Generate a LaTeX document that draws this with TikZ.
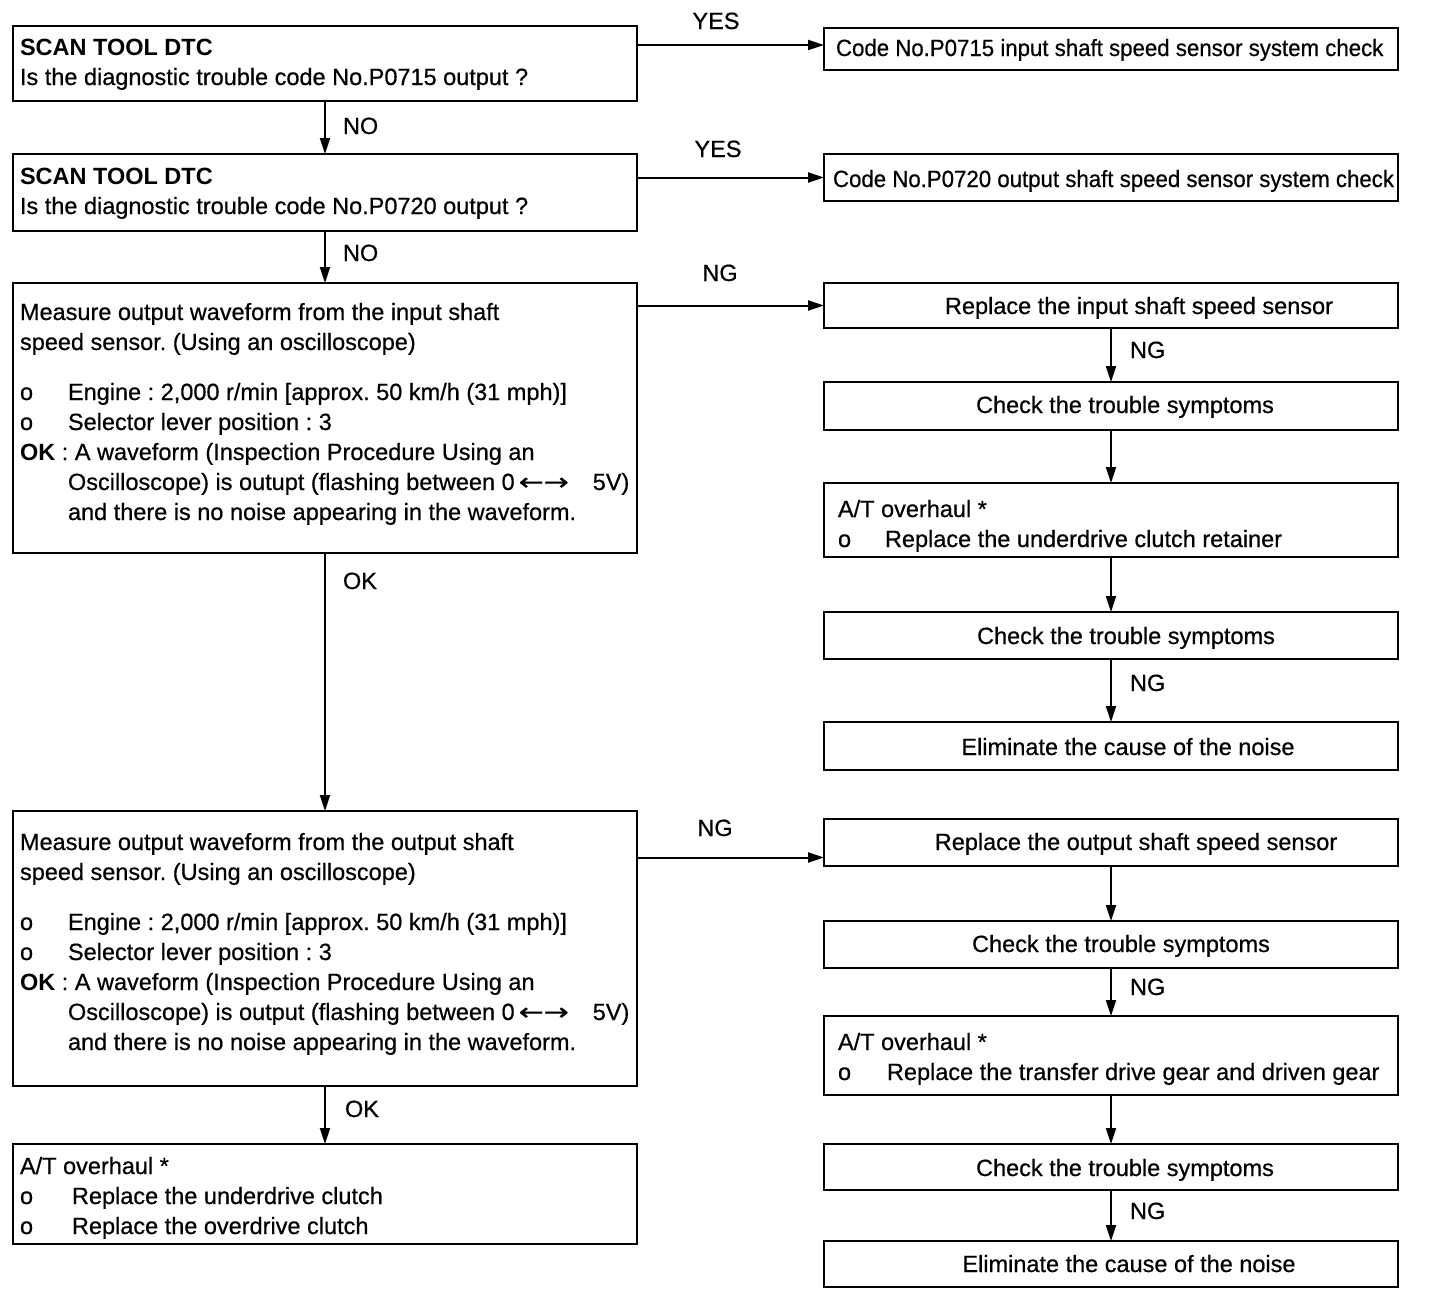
\documentclass[tikz,border=0pt]{standalone}
\usepackage{fontspec}
\setmainfont{Liberation Sans}[UprightFeatures={FakeBold=0.6}]
\newfontfamily\arrfont{DejaVu Sans}[FakeBold=0.6]
\usetikzlibrary{arrows.meta,calc}
\newcommand{\bulA}{\makebox[48pt][l]{o}}
\newcommand{\bulB}{\makebox[52pt][l]{o}}
\newcommand{\bulC}{\makebox[47pt][l]{o}}
\newcommand{\indA}{\hspace*{48pt}}
\newcommand{\lines}[1]{\begin{tabular}[t]{@{}l@{}}#1\end{tabular}}
\newcommand{\dblarr}{\hspace{4pt}\scalebox{1.27}[1]{\arrfont ←→}\hspace{24pt}}
\frenchspacing
\begin{document}
\begin{tikzpicture}[x=1pt,y=-1pt,
  box/.style={draw, line width=2pt, rectangle, inner sep=0pt, outer sep=0pt},
  lbox/.style={box, minimum width=624pt},
  rbox/.style={box, minimum width=574pt},
  txt/.style={inner sep=0pt, outer sep=0pt, font=\fontsize{23.5}{30}\selectfont\frenchspacing},
  conn/.style={line width=2pt, -{Triangle[length=16pt,width=10pt]}}]
\useasboundingbox (0,0) rectangle (1440,1302);

% left column boxes
\node[lbox, minimum height=75pt]  (b1) at (325,63.5) {};
\node[lbox, minimum height=77pt]  (b2) at (325,192.5) {};
\node[lbox, minimum height=270pt] (b3) at (325,418) {};
\node[lbox, minimum height=275pt] (b4) at (325,948.5) {};
\node[lbox, minimum height=100pt] (b5) at (325,1194) {};

% right column boxes
\node[rbox, minimum height=42pt] (r1) at (1111,49) {};
\node[rbox, minimum height=47pt] (r2) at (1111,177.5) {};
\node[rbox, minimum height=45pt] (r3) at (1111,305.5) {};
\node[rbox, minimum height=48pt] (r4) at (1111,406) {};
\node[rbox, minimum height=74pt] (r5) at (1111,520) {};
\node[rbox, minimum height=47pt] (r6) at (1111,635.5) {};
\node[rbox, minimum height=48pt] (r7) at (1111,746) {};
\node[rbox, minimum height=47pt] (r8) at (1111,842.5) {};
\node[rbox, minimum height=47pt] (r9) at (1111,944.5) {};
\node[rbox, minimum height=79pt] (r10) at (1111,1055.5) {};
\node[rbox, minimum height=46pt] (r11) at (1111,1167) {};
\node[rbox, minimum height=46pt] (r12) at (1111,1264) {};

% left texts
\node[txt, anchor=base west] (t1) at (20,55) {\lines{\textbf{SCAN TOOL DTC}\\Is the diagnostic trouble code No.P0715 output ?}};
\node[txt, anchor=base west] (t2) at (20,184) {\lines{\textbf{SCAN TOOL DTC}\\Is the diagnostic trouble code No.P0720 output ?}};
\node[txt, anchor=base west] (t3) at (20,320) {\lines{Measure output waveform from the input shaft\\
speed sensor. (Using an oscilloscope)\\[20pt]
\bulA Engine : 2,000 r/min [approx. 50 km/h (31 mph)]\\
\bulA Selector lever position : 3\\
\textbf{OK} : A waveform (Inspection Procedure Using an\\
\indA Oscilloscope) is outupt (flashing between 0\dblarr 5V)\\
\indA and there is no noise appearing in the waveform.}};
\node[txt, anchor=base west] (t4) at (20,850) {\lines{Measure output waveform from the output shaft\\
speed sensor. (Using an oscilloscope)\\[20pt]
\bulA Engine : 2,000 r/min [approx. 50 km/h (31 mph)]\\
\bulA Selector lever position : 3\\
\textbf{OK} : A waveform (Inspection Procedure Using an\\
\indA Oscilloscope) is output (flashing between 0\dblarr 5V)\\
\indA and there is no noise appearing in the waveform.}};
\node[txt, anchor=base west] (t5) at (20,1174) {\lines{A/T overhaul *\\
\bulB Replace the underdrive clutch\\
\bulB Replace the overdrive clutch}};

% right texts
\node[txt, anchor=base west] (s1) at (836,56) {\scalebox{0.946}[1]{Code No.P0715 input shaft speed sensor system check}};
\node[txt, anchor=base west] (s2) at (833,187) {\scalebox{0.946}[1]{Code No.P0720 output shaft speed sensor system check}};
\node[txt, anchor=base] (s3) at (1139,314) {Replace the input shaft speed sensor};
\node[txt, anchor=base] (s4) at (1125,413) {Check the trouble symptoms};
\node[txt, anchor=base west] (s5) at (838,517) {\lines{A/T overhaul *\\ \bulC Replace the underdrive clutch retainer}};
\node[txt, anchor=base] (s6) at (1126,644) {Check the trouble symptoms};
\node[txt, anchor=base] (s7) at (1128,755) {Eliminate the cause of the noise};
\node[txt, anchor=base] (s8) at (1136,850) {Replace the output shaft speed sensor};
\node[txt, anchor=base] (s9) at (1121,952) {Check the trouble symptoms};
\node[txt, anchor=base west] (s10) at (838,1050) {\lines{A/T overhaul *\\ \makebox[49pt][l]{o}Replace the transfer drive gear and driven gear}};
\node[txt, anchor=base] (s11) at (1125,1176) {Check the trouble symptoms};
\node[txt, anchor=base] (s12) at (1129,1272) {Eliminate the cause of the noise};

% connectors
\coordinate (r1in) at ([yshift=4pt]r1.west);
\coordinate (r8in) at ([yshift=-15pt]r8.west);
\draw[conn] (b1.east |- r1in) -- (r1in);
\draw[conn] (b2.east |- r2.west) -- (r2.west);
\draw[conn] (b3.east |- r3.west) -- (r3.west);
\draw[conn] (b4.east |- r8in) -- (r8in);

\draw[conn] (b1.south) -- (b2.north);
\draw[conn] (b2.south) -- (b3.north);
\draw[conn] (b3.south) -- (b4.north);
\draw[conn] (b4.south) -- (b5.north);

\draw[conn] (r3.south) -- (r4.north);
\draw[conn] (r4.south) -- (r5.north);
\draw[conn] (r5.south) -- (r6.north);
\draw[conn] (r6.south) -- (r7.north);
\draw[conn] (r8.south) -- (r9.north);
\draw[conn] (r9.south) -- (r10.north);
\draw[conn] (r10.south) -- (r11.north);
\draw[conn] (r11.south) -- (r12.north);

% labels
\node[txt, anchor=base] (l1) at (716,29) {YES};
\node[txt, anchor=base] (l2) at (718,157) {YES};
\node[txt, anchor=base] (l3) at (720,281) {NG};
\node[txt, anchor=base] (l4) at (715,836) {NG};
\node[txt, anchor=base west] (l5) at (343,134) {NO};
\node[txt, anchor=base west] (l6) at (343,261) {NO};
\node[txt, anchor=base west] (l7) at (343,589) {OK};
\node[txt, anchor=base west] (l8) at (345,1117) {OK};
\node[txt, anchor=base west] (l9) at (1130,358) {NG};
\node[txt, anchor=base west] (l10) at (1130,691) {NG};
\node[txt, anchor=base west] (l11) at (1130,995) {NG};
\node[txt, anchor=base west] (l12) at (1130,1219) {NG};
\end{tikzpicture}
\end{document}
